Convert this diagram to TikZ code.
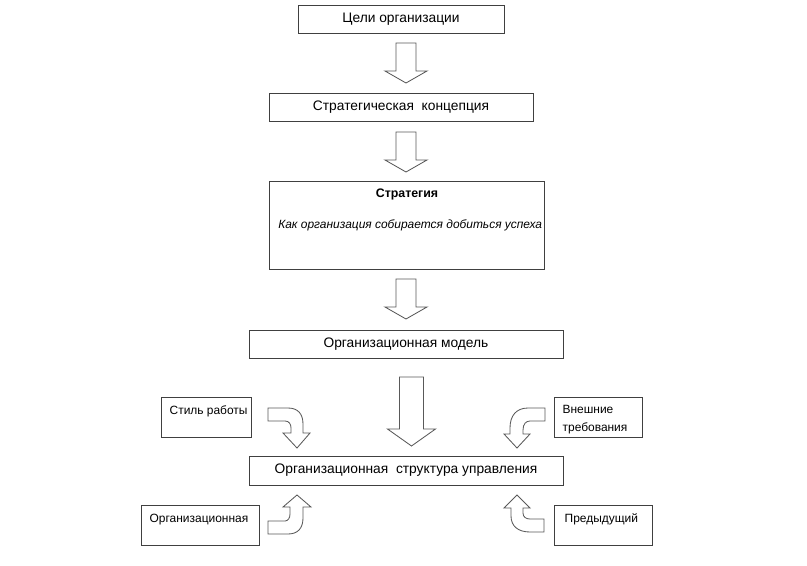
\documentclass[tikz,border=0pt]{standalone}
\usepackage{fontspec}
\setmainfont{Liberation Sans}
\usetikzlibrary{positioning}

\begin{document}
\begin{tikzpicture}[
    x=0.025cm, y=-0.025cm,
    % boxes and block arrows
    box/.style={draw=black!75, line width=0.6pt, fill=white, inner sep=0pt, font=\fontsize{9.8}{12}\selectfont},
    sidebox/.style={box, minimum height=1cm},
    lbl/.style={inner sep=0pt, font=\fontsize{8.5}{10.5}\selectfont, align=left},
    blockarrow/.style={draw=black!65, line width=0.6pt, fill=white, line join=miter}
]

\useasboundingbox (0,0) rectangle (807,565);

% Main column
\node[box, minimum width=5.15cm, minimum height=0.7cm] (goals) at (401,19) {Цели организации};
\node[box, minimum width=6.6cm, minimum height=0.7cm] (concept) at (401,107) {Стратегическая\ \ концепция};
\node[box, minimum width=6.875cm, minimum height=2.2cm] (strategy) at (406.5,225) {};
\node[box, minimum width=7.85cm, minimum height=0.7cm] (model) at (406,344) {Организационная модель};
\node[box, minimum width=7.85cm, minimum height=0.725cm] (structure) at (406,470.5) {Организационная\ \ структура управления};

% Strategy box text
\node[lbl, font=\fontsize{8.8}{11}\selectfont\bfseries] (strtitle) at (407,194) {Стратегия};
\begin{scope}
\clip (strategy.south west) rectangle (strategy.north east);
\node[lbl, anchor=west, font=\fontsize{8.5}{11}\selectfont\itshape] (strtext) at (278,225) {Как организация собирается добиться успеха};
\end{scope}

% Side boxes
\node[sidebox, minimum width=2.25cm] (stylebox) at (206,417) {};
\node[sidebox, minimum width=2.2cm] (extbox) at (598,417) {};
\node[sidebox, minimum width=2.95cm] (orgbox) at (200,525) {};
\node[sidebox, minimum width=2.45cm] (prevbox) at (603,525) {};

\node[lbl, below right=0.22cm and 0.22cm of stylebox.north west, anchor=north west] (styletxt) {Стиль работы};
\node[lbl, below right=0.22cm and 0.22cm of extbox.north west, anchor=north west] (exttxt) {Внешние\\[2pt]требования};
\node[lbl, below right=0.22cm and 0.22cm of orgbox.north west, anchor=north west] (orgtxt) {Организационная};
\node[lbl, below right=0.22cm and 0.27cm of prevbox.north west, anchor=north west] (prevtxt) {Предыдущий};

% Straight block arrows: centre x / top y / shaft half / head half / shaft length / head length
\foreach \x/\y/\s/\h/\l/\t in {406/43/10/21/28/12, 406/132/10/21/28/12, 406/279/10/21/28/12, 411.5/377/12/24/52/17} {
    \draw[blockarrow] (\x-\s,\y) -- (\x+\s,\y) -- (\x+\s,\y+\l) -- (\x+\h,\y+\l)
        -- (\x,\y+\l+\t) -- (\x-\h,\y+\l) -- (\x-\s,\y+\l) -- cycle;
}

% Curved block arrows
\draw[blockarrow] (268,408) -- (288,408) .. controls (298,408) and (303,414) .. (303,424)
    -- (303,433) -- (310,433) -- (297,448) -- (283,433) -- (291,433) -- (291,428)
    .. controls (291,424) and (289,421) .. (285,421) -- (268,421) -- cycle;
\draw[blockarrow] (545,408) -- (528,408) .. controls (516,408) and (510,416) .. (510,428)
    -- (510,434) -- (504,434) -- (517,448) -- (530,434) -- (523,434) -- (523,430)
    .. controls (523,424) and (526,421) .. (530,421) -- (545,421) -- cycle;
\draw[blockarrow] (268,534) -- (288,534) .. controls (298,534) and (303,528) .. (303,518)
    -- (303,507) -- (311,507) -- (297,495) -- (283,507) -- (290,507) -- (290,514)
    .. controls (290,518) and (288,521) .. (285,521) -- (268,521) -- cycle;
\draw[blockarrow] (544,532) -- (530,532) .. controls (518,532) and (511,526) .. (511,516)
    -- (511,508) -- (504,508) -- (517,495) -- (530,508) -- (523,508) -- (523,513)
    .. controls (523,517) and (526,519) .. (530,519) -- (544,519) -- cycle;

\end{tikzpicture}
\end{document}
